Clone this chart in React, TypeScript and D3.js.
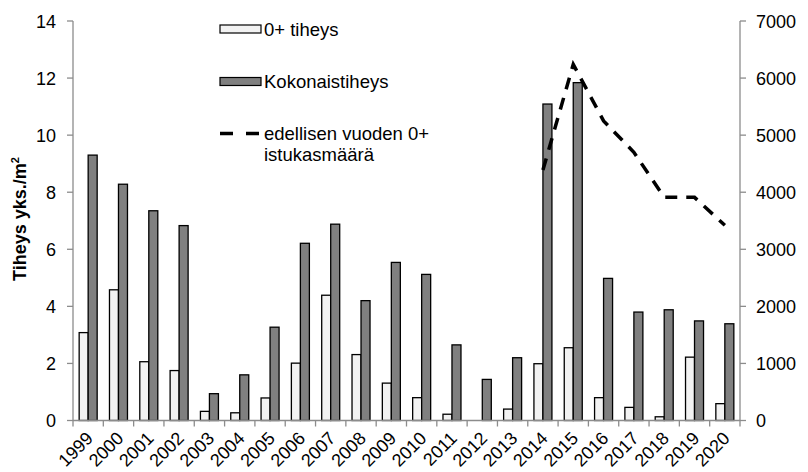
import React from "react";
import { scaleBand, scaleLinear, line } from "d3";

const years = [
  "1999", "2000", "2001", "2002", "2003", "2004", "2005", "2006", "2007", "2008", "2009",
  "2010", "2011", "2012", "2013", "2014", "2015", "2016", "2017", "2018", "2019", "2020",
];
const zeroPlus = [
  3.08, 4.58, 2.06, 1.75, 0.32, 0.27, 0.79, 2.01, 4.39, 2.31, 1.31,
  0.8, 0.22, 0, 0.4, 1.99, 2.55, 0.8, 0.46, 0.13, 2.22, 0.59,
];
const total = [
  9.3, 8.28, 7.35, 6.83, 0.94, 1.6, 3.27, 6.21, 6.88, 4.2, 5.54,
  5.12, 2.65, 1.44, 2.2, 11.09, 11.84, 4.98, 3.8, 3.88, 3.49, 3.39,
];
const stockYears = ["2014", "2015", "2016", "2017", "2018", "2019", "2020"];
const stocked = [4390, 6240, 5250, 4700, 3910, 3910, 3420];
const leftTicks = [0, 2, 4, 6, 8, 10, 12, 14];
const rightTicks = [0, 1000, 2000, 3000, 4000, 5000, 6000, 7000];

const W = 808;
const H = 472;
const m = { left: 73, right: 740, top: 21, bottom: 420.5 };
const axisColor = "#8c8c8c";
const font = "'Liberation Sans', Arial, sans-serif";

export default function App() {
  const x = scaleBand().domain(years).range([m.left, m.right]).padding(0);
  const y = scaleLinear().domain([0, 14]).range([m.bottom, m.top]);
  const y2 = scaleLinear().domain([0, 7000]).range([m.bottom, m.top]);
  const cx = (d: string) => (x(d) as number) + x.bandwidth() / 2;
  const barW = 9;

  const stockLine = line<number>()
    .x((_, i) => cx(stockYears[i]))
    .y((v) => y2(v));

  return (
    <svg
      width={W}
      height={H}
      style={{ position: "absolute", left: 0, top: 0, background: "#fff" }}
      fontFamily={font}
      fontSize={18}
    >
      {/* bars */}
      {years.map((yr, i) => (
        <g key={yr}>
          {zeroPlus[i] > 0 && (
            <rect
              x={cx(yr) - barW}
              y={y(zeroPlus[i])}
              width={barW}
              height={y(0) - y(zeroPlus[i])}
              fill="#f2f2f2"
              stroke="#000"
              strokeWidth={1.3}
            />
          )}
          <rect
            x={cx(yr)}
            y={y(total[i])}
            width={barW}
            height={y(0) - y(total[i])}
            fill="#808080"
            stroke="#000"
            strokeWidth={1.3}
          />
        </g>
      ))}

      {/* stocking line */}
      <path
        d={stockLine(stocked) || ""}
        fill="none"
        stroke="#000"
        strokeWidth={3.5}
        strokeDasharray="12,9"
      />

      {/* left axis */}
      <line x1={m.left} x2={m.left} y1={m.top} y2={m.bottom} stroke={axisColor} strokeWidth={1.3} />
      {leftTicks.map((t) => (
        <g key={t}>
          <line x1={m.left - 6} x2={m.left} y1={y(t)} y2={y(t)} stroke={axisColor} strokeWidth={1.3} />
          <text x={m.left - 17} y={y(t) + 6.5} textAnchor="end" fill="#000">
            {t}
          </text>
        </g>
      ))}
      <text
        transform={`translate(26,219) rotate(-90)`}
        textAnchor="middle"
        fontWeight="bold"
        fill="#000"
      >
        Tiheys yks./m<tspan fontSize={11} dy={-7}>2</tspan>
      </text>

      {/* right axis */}
      <line x1={m.right} x2={m.right} y1={m.top} y2={m.bottom} stroke={axisColor} strokeWidth={1.3} />
      {rightTicks.map((t) => (
        <g key={t}>
          <line x1={m.right} x2={m.right + 6} y1={y2(t)} y2={y2(t)} stroke={axisColor} strokeWidth={1.3} />
          <text x={m.right + 16} y={y2(t) + 6.5} textAnchor="start" fill="#000">
            {t}
          </text>
        </g>
      ))}

      {/* bottom axis */}
      <line x1={m.left} x2={m.right} y1={m.bottom} y2={m.bottom} stroke={axisColor} strokeWidth={1.3} />
      {[...years.map((d) => x(d) as number), m.right].map((px, i) => (
        <line key={i} x1={px} x2={px} y1={m.bottom} y2={m.bottom + 6} stroke={axisColor} strokeWidth={1.3} />
      ))}
      {years.map((yr) => (
        <text
          key={yr}
          transform={`translate(${cx(yr) + 6},${m.bottom + 19}) rotate(-45)`}
          textAnchor="end"
          fill="#000"
        >
          {yr}
        </text>
      ))}

      {/* legend */}
      <g fontSize={18.5}>
        <rect x={220} y={25} width={41} height={8} fill="#f2f2f2" stroke="#000" strokeWidth={1.2} />
        <text x={264} y={35.5} fill="#000">0+ tiheys</text>
        <rect x={220} y={77.5} width={41} height={8} fill="#808080" stroke="#000" strokeWidth={1.2} />
        <text x={264} y={88} fill="#000">Kokonaistiheys</text>
        <line x1={220} x2={261} y1={133.5} y2={133.5} stroke="#000" strokeWidth={3.5} strokeDasharray="13,13" />
        <text x={264} y={140} fill="#000">edellisen vuoden 0+</text>
        <text x={264} y={161} fill="#000">istukasmäärä</text>
      </g>
    </svg>
  );
}
